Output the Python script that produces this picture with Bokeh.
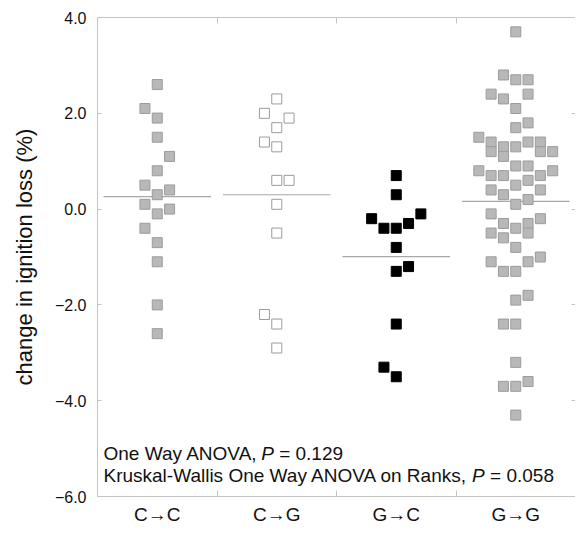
import numpy as np
from bokeh.plotting import figure
from bokeh.models import Range1d, FixedTicker, LinearAxis, Label, ColumnDataSource
from bokeh.embed import file_html
from bokeh.resources import INLINE

# ---------------- data ----------------
categories = ["C→C", "C→G", "G→C", "G→G"]

cc_values = [2.6, 2.1, 1.9, 1.5, 1.1, 0.8, 0.5, 0.4, 0.3, 0.1, 0.0, -0.1, -0.4, -0.7, -1.1, -2.0, -2.6]
cc_cols = [0, -1, 0, 0, 1, 0, -1, 1, 0, -1, 1, 0, -1, 0, 0, 0, 0]

cg_values = [2.3, 2.0, 1.9, 1.7, 1.4, 1.3, 0.6, 0.6, 0.1, -0.5, -2.2, -2.4, -2.9]
cg_cols = [0, -1, 1, 0, -1, 0, 0, 1, 0, 0, -1, 0, 0]

gc_values = [0.7, 0.3, -0.1, -0.2, -0.3, -0.4, -0.4, -0.8, -1.2, -1.3, -2.4, -3.3, -3.5]
gc_cols = [0, 0, 2, -2, 1, -1, 0, 0, 1, 0, 0, -1, 0]

gg_values = [3.7, 2.8, 2.7, 2.7, 2.4, 2.3, 2.4, 2.1, 1.7, 1.8,
             1.5, 1.4, 1.2, 1.3, 1.1, 1.3, 1.4, 1.4, 1.2, 1.2,
             0.8, 0.7, 0.7, 0.9, 0.9, 0.7, 0.8,
             0.4, 0.3, 0.5, 0.6, 0.4, 0.1, 0.2,
             -0.1, -0.3, -0.4, -0.3, -0.5, -0.2, -0.5, -0.6, -0.8,
             -1.1, -1.3, -1.3, -1.1, -1.0, -1.9, -1.8, -2.4, -2.4,
             -3.2, -3.7, -3.7, -3.6, -4.3]
gg_cols = [0, -1, 0, 1, -2, -1, 1, 0, 0, 1,
           -3, -2, -2, -1, -1, 0, 1, 2, 2, 3,
           -3, -2, -1, 0, 1, 2, 3,
           -2, -1, 0, 1, 2, 0, 1,
           -2, -1, 0, 1, 1, 2, -2, -1, 0,
           -2, -1, 0, 1, 2, 0, 1, -1, 0,
           0, -1, 0, 1, 0]

y_ticks = [4.0, 2.0, 0.0, -2.0, -4.0, -6.0]
y_tick_labels = ["4.0", "2.0", "0.0", "\u22122.0", "\u22124.0", "\u22126.0"]

anova_p = "0.129"
kruskal_p = "0.058"

# ---------------- styles ----------------
FONT = "Liberation Sans"
AXIS_COLOR = "#c4c4c4"
COL_STEP = 0.103
groups = [
    (cc_values, cc_cols, "#b8b8b8", "#9c9c9c"),
    (cg_values, cg_cols, "#ffffff", "#9c9c9c"),
    (gc_values, gc_cols, "#000000", "#000000"),
    (gg_values, gg_cols, "#b8b8b8", "#9c9c9c"),
]

p = figure(frame_width=478, frame_height=479,
           x_range=Range1d(-0.5, 3.5), y_range=Range1d(-6.0, 4.0),
           output_backend="svg", toolbar_location=None,
           min_border_left=97, min_border_top=17, min_border_right=0,
           min_border_bottom=60, x_axis_location="below")
p.outline_line_color = None
p.xgrid.visible = False
p.ygrid.visible = False
p.background_fill_color = "white"
p.border_fill_color = "white"

# mean lines
for i, (vals, cols, fill, line) in enumerate(groups):
    m = float(np.mean(vals))
    p.segment(x0=[i - 0.45], x1=[i + 0.45], y0=[m], y1=[m],
              line_color="#a8a8a8", line_width=1.2)

# points
for i, (vals, cols, fill, line) in enumerate(groups):
    src = ColumnDataSource(dict(x=[i + c * COL_STEP for c in cols], y=vals))
    p.scatter("x", "y", source=src, marker="square", size=10,
              fill_color=fill, line_color=line, line_width=1)

# bottom axis
xa = p.xaxis[0]
xa.ticker = FixedTicker(ticks=list(range(len(categories))),
                        minor_ticks=[0.5, 1.5, 2.5])
xa.major_label_overrides = {i: c for i, c in enumerate(categories)}
xa.major_tick_line_color = None
xa.minor_tick_in = 6
xa.minor_tick_out = 0
xa.minor_tick_line_color = AXIS_COLOR
xa.axis_line_color = AXIS_COLOR
xa.major_label_text_font = FONT
xa.major_label_text_font_size = "19px"
xa.major_label_text_color = "#111111"
xa.major_label_standoff = 1

# left axis
ya = p.yaxis[0]
ya.ticker = FixedTicker(ticks=y_ticks, minor_ticks=[])
ya.major_label_overrides = {t: l for t, l in zip(y_ticks, y_tick_labels)}
ya.major_tick_in = 4
ya.major_tick_out = 0
ya.major_tick_line_color = AXIS_COLOR
ya.axis_line_color = AXIS_COLOR
ya.major_label_text_font = FONT
ya.major_label_text_font_size = "16px"
ya.major_label_text_color = "#111111"
ya.major_label_standoff = 11
ya.axis_label = "change in ignition loss (%)"
ya.axis_label_text_font = FONT
ya.axis_label_text_font_size = "22px"
ya.axis_label_text_font_style = "normal"
ya.axis_label_text_color = "#111111"
ya.axis_label_standoff = 15

# top axis (boundary ticks only, no labels)
top = LinearAxis(ticker=FixedTicker(ticks=[], minor_ticks=[0.5, 1.5, 2.5]))
top.minor_tick_in = 6
top.minor_tick_out = 0
top.minor_tick_line_color = AXIS_COLOR
top.axis_line_color = AXIS_COLOR
top.major_label_standoff = 0
p.add_layout(top, "above")

# right axis (ticks only, no labels)
right = LinearAxis(ticker=FixedTicker(ticks=[], minor_ticks=y_ticks))
right.minor_tick_in = 4
right.minor_tick_out = 0
right.minor_tick_line_color = AXIS_COLOR
right.axis_line_color = AXIS_COLOR
right.major_label_standoff = 0
p.add_layout(right, "right")

# statistics annotation (italic P as its own piece)
fs = 19
prefix_em = {"One Way ANOVA,": 8.30, "Kruskal-Wallis One Way ANOVA on Ranks,": 19.40}
def add_line(y, prefix, pval):
    w_prefix = prefix_em[prefix]
    p.add_layout(Label(x=-0.45, y=y, text=prefix, text_font=FONT,
                       text_font_size=f"{fs}px", text_color="#111111",
                       text_baseline="alphabetic"))
    p.add_layout(Label(x=-0.45, y=y, x_offset=w_prefix * fs, text="P", text_font=FONT,
                       text_font_size=f"{fs}px", text_font_style="italic",
                       text_color="#111111", text_baseline="alphabetic"))
    p.add_layout(Label(x=-0.45, y=y, x_offset=(w_prefix + 0.667 + 0.278) * fs,
                       text="= " + pval, text_font=FONT,
                       text_font_size=f"{fs}px", text_color="#111111",
                       text_baseline="alphabetic"))

add_line(-5.10, "One Way ANOVA,", anova_p)
add_line(-5.56, "Kruskal-Wallis One Way ANOVA on Ranks,", kruskal_p)

# x axis title
p.add_layout(Label(x=1.33, y=-6.87, text="field managements", text_font=FONT,
                   text_font_size="22px", text_color="#111111",
                   text_align="center", text_baseline="middle"))

open("out.html", "w").write(file_html(p, INLINE))
